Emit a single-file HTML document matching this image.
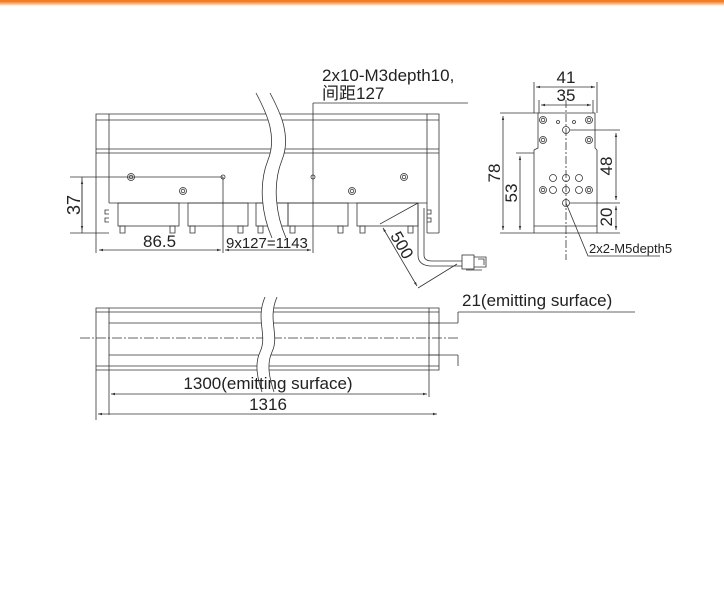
<!DOCTYPE html>
<html><head><meta charset="utf-8"><style>
html,body{margin:0;padding:0;background:#fff;width:724px;height:591px;overflow:hidden}
svg{display:block}
text{font-family:"Liberation Sans","Noto Sans CJK SC",sans-serif;fill:#222}
</style></head><body>
<svg width="724" height="591" viewBox="0 0 724 591">
<defs>
<linearGradient id="g" x1="0" y1="0" x2="0" y2="1"><stop offset="0" stop-color="#f07f24"/><stop offset="0.5" stop-color="#f5a060"/><stop offset="1" stop-color="#fff"/></linearGradient>
<marker id="a" markerWidth="6" markerHeight="6" refX="5" refY="3" orient="auto-start-reverse"><path d="M0,1.5L5,3L0,4.5" fill="#333"/></marker>
</defs>
<rect x="0" y="0" width="724" height="6" fill="url(#g)"/>
<rect x="0" y="0" width="724" height="2" fill="#f07f24"/>
<g stroke="#333" stroke-width="0.8" fill="none">
<path d="M96,233V114H439V233"/>
<path d="M109,114V203M427,114V233M96,120H439M96,149H439M96,153H439M109,203H427"/>
<path d="M96,233H109M427,233H439M109,210h-4v4h4M109,218h-4v4h4M427,210h4v4h-4M427,218h4v4h-4"/>
<rect x="118" y="203" width="61" height="23"/><rect x="188" y="203" width="60" height="23"/>
<rect x="256" y="203" width="32" height="23"/><rect x="288" y="203" width="60" height="23"/><rect x="357" y="203" width="61" height="23"/>
<path d="M120,226h5v7h-5zM170,226h5v7h-5zM190,226h5v7h-5zM238,226h5v7h-5zM258,226h5v7h-5zM290,226h5v7h-5zM338,226h5v7h-5zM360,226h5v7h-5zM408,226h5v7h-5z"/>
<circle cx="131" cy="177" r="3.5"/><circle cx="131" cy="177" r="1.8"/>
<circle cx="183" cy="191" r="3.5"/><circle cx="183" cy="191" r="1.8"/>
<circle cx="352" cy="191" r="3.5"/><circle cx="352" cy="191" r="1.8"/>
<circle cx="404" cy="177" r="3.5"/><circle cx="404" cy="177" r="1.8"/>
<circle cx="223" cy="177" r="2"/><circle cx="313" cy="177" r="2"/>
<path d="M418,203V255Q418,265 430,266H462M424,208V255Q424,261 432,261H462"/>
<rect x="462" y="255" width="12" height="14"/><path d="M474,257h12v10h-12M478,259h6v6M466,270h16"/>
<path d="M418,203L380,224M418,288L457,264"/>
<path d="M383,228L417,286" marker-start="url(#a)" marker-end="url(#a)"/>
<path d="M70,177H223M70,233H96M82,177V233" />
<path d="M82,180V230" marker-start="url(#a)" marker-end="url(#a)"/>
<path d="M96,233V253M223,177V253M313,103V253M313,103H468"/>
<path d="M99,250H221" marker-start="url(#a)" marker-end="url(#a)"/>
<path d="M225,250H311" marker-start="url(#a)" marker-end="url(#a)"/>
<path d="M538,113H595V148L597,150V233H534V150L538,148Z"/>
<path d="M534,226H597"/>
<path d="M566,100V260" stroke-dasharray="8,2,2,2"/>
<circle cx="543" cy="120" r="3.5"/><circle cx="543" cy="120" r="1.8"/>
<circle cx="589" cy="120" r="3.5"/><circle cx="589" cy="120" r="1.8"/>
<circle cx="543" cy="140" r="3.5"/><circle cx="543" cy="140" r="1.8"/>
<circle cx="589" cy="140" r="3.5"/><circle cx="589" cy="140" r="1.8"/>
<circle cx="543" cy="190" r="3.5"/><circle cx="543" cy="190" r="1.8"/>
<circle cx="589" cy="190" r="3.5"/><circle cx="589" cy="190" r="1.8"/>
<circle cx="558" cy="122" r="1.5"/><circle cx="574" cy="122" r="1.5"/>
<circle cx="566" cy="130" r="3.5"/><circle cx="566" cy="203" r="3.5"/>
<circle cx="553" cy="178" r="3.5"/><circle cx="566" cy="178" r="3.5"/><circle cx="579" cy="178" r="3.5"/>
<circle cx="553" cy="190" r="3.5"/><circle cx="566" cy="190" r="3.5"/><circle cx="579" cy="190" r="3.5"/>
<path d="M534,113V82M597,113V82M539,113V100M593,113V100"/>
<path d="M536,87H595" marker-start="url(#a)" marker-end="url(#a)"/>
<path d="M541,105H591" marker-start="url(#a)" marker-end="url(#a)"/>
<path d="M500,113H538M500,233H534M516,153H534"/>
<path d="M503,116V230" marker-start="url(#a)" marker-end="url(#a)"/>
<path d="M520,156V230" marker-start="url(#a)" marker-end="url(#a)"/>
<path d="M570,130H620M570,203H620M597,233H620"/>
<path d="M616,133V200" marker-start="url(#a)" marker-end="url(#a)"/>
<path d="M616,206V230" marker-start="url(#a)" marker-end="url(#a)"/>
<path d="M566,203L588,256H660"/>
<path d="M96,308H439V370H96Z"/>
<path d="M96,312H439M109,323H439M109,355H439M96,366H439M109,308V415M429,308V397"/>
<path d="M80,338H458" stroke-dasharray="10,2,2,2"/>
<path d="M429,323H458M429,355H458M458,312V323M458,355V366M458,312H635"/>
<path d="M96,370V420"/>
<path d="M111,394H427" marker-start="url(#a)" marker-end="url(#a)"/>
<path d="M98,414H437" marker-start="url(#a)" marker-end="url(#a)"/>
</g>
<g stroke="#333" stroke-width="0.8">
<path d="M256,93C265,110 278,135 268,160C258,185 262,215 272,238L286,238C276,215 272,185 282,160C292,135 279,110 270,93Z" fill="#fff" stroke="none"/>
<path d="M256,93C265,110 278,135 268,160C258,185 262,215 272,238M270,93C279,110 292,135 282,160C272,185 276,215 286,238" fill="none"/>
<path d="M265,297C255,320 268,335 260,352C254,365 258,380 262,392L274,392C270,380 266,365 272,352C280,335 267,320 277,297Z" fill="#fff" stroke="none"/>
<path d="M265,297C255,320 268,335 260,352C254,365 258,380 262,392M277,297C267,320 280,335 272,352C266,365 270,380 274,392" fill="none"/>
</g>
<g font-size="17">
<text x="322" y="81">2x10-M3depth10,</text>
<text x="322" y="99">间距127</text>
<text x="143" y="247">86.5</text>
<text x="226" y="248" font-size="15">9x127=1143</text>
<text transform="translate(80,205) rotate(-90)" text-anchor="middle" font-size="18">37</text>
<text transform="translate(397,248) rotate(60)" text-anchor="middle">500</text>
<text x="566" y="83" text-anchor="middle">41</text>
<text x="566" y="101" text-anchor="middle">35</text>
<text transform="translate(500,173) rotate(-90)" text-anchor="middle">78</text>
<text transform="translate(517,193) rotate(-90)" text-anchor="middle">53</text>
<text transform="translate(612,166) rotate(-90)" text-anchor="middle">48</text>
<text transform="translate(612,217) rotate(-90)" text-anchor="middle">20</text>
<text x="589" y="253" font-size="13">2x2-M5depth5</text>
<text x="462" y="306">21(emitting surface)</text>
<text x="268" y="389" text-anchor="middle">1300(emitting surface)</text>
<text x="268" y="410" text-anchor="middle">1316</text>
</g>
</svg>
</body></html>
